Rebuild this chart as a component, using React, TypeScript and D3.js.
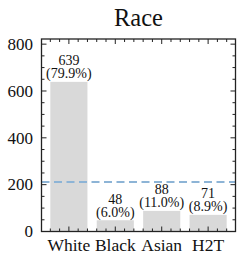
import React from "react";
import * as d3 from "d3";

const categories = ["White", "Black", "Asian", "H2T"];
const counts = [639, 48, 88, 71];
const shares = ["79.9%", "6.0%", "11.0%", "8.9%"];
const yTicks = [0, 200, 400, 600, 800];
const meanLine = 211.5;

const W = 244;
const H = 263;
const margin = { top: 39, right: 8.5, bottom: 31.5, left: 41.5 };
const font = '"Liberation Serif", "Times New Roman", Tinos, FreeSerif';

export default function App() {
  const iw = W - margin.left - margin.right;
  const ih = H - margin.top - margin.bottom;

  const x = d3.scaleLinear().domain([-0.59, 3.59]).range([0, iw]);
  const y = d3.scaleLinear().domain([0, 822]).range([ih, 0]);

  const barW = x(0.8) - x(0);
  const yMinor = d3.range(0, 822, 50).filter((v) => v % 200 !== 0);
  const xMinor = d3.range(-0.4, 3.5, 0.2).filter((v) => Math.abs(v - Math.round(v)) > 0.01);
  const stroke = "#222";

  return (
    <svg width={W} height={H} fontFamily={font} style={{ position: "absolute", left: 0, top: 0, background: "#fff", fontFamily: font }}>
      <style>{`text { font-family: ${font}; }`}</style>
      <text x={margin.left + iw / 2} y={26} textAnchor="middle" fontSize={24.5} fill="#111">
        Race
      </text>
      <g transform={`translate(${margin.left},${margin.top})`}>
        {counts.map((c, i) => (
          <rect key={i} x={x(i) - barW / 2} y={y(c)} width={barW} height={ih - y(c)} fill="#d9d9d9" />
        ))}
        <line x1={0} x2={iw} y1={y(meanLine)} y2={y(meanLine)} stroke="#8db4d6" strokeWidth={2} strokeDasharray="8,4.5" />
        {counts.map((c, i) => (
          <g key={i}>
            <text x={x(i)} y={y(c) - 16.5} textAnchor="middle" fontSize={14} fill="#111">
              {c}
            </text>
            <text x={x(i)} y={y(c) - 3.5} textAnchor="middle" fontSize={14} fill="#111">
              ({shares[i]})
            </text>
          </g>
        ))}
        {/* y ticks */}
        {yTicks.map((t) => (
          <g key={t}>
            <line x1={0} x2={5} y1={y(t)} y2={y(t)} stroke={stroke} strokeWidth={1} />
            <line x1={iw} x2={iw - 5} y1={y(t)} y2={y(t)} stroke={stroke} strokeWidth={1} />
            <text x={-8.5} y={y(t) + 5.8} textAnchor="end" fontSize={17} fill="#111">
              {t}
            </text>
          </g>
        ))}
        {yMinor.map((t) => (
          <g key={t}>
            <line x1={0} x2={3} y1={y(t)} y2={y(t)} stroke={stroke} strokeWidth={1} />
            <line x1={iw} x2={iw - 3} y1={y(t)} y2={y(t)} stroke={stroke} strokeWidth={1} />
          </g>
        ))}
        {/* x ticks */}
        {categories.map((c, i) => (
          <g key={c}>
            <line x1={x(i)} x2={x(i)} y1={ih} y2={ih - 5} stroke={stroke} strokeWidth={1} />
            <line x1={x(i)} x2={x(i)} y1={0} y2={5} stroke={stroke} strokeWidth={1} />
            <text x={x(i)} y={ih + 19.5} textAnchor="middle" fontSize={17.5} fill="#111">
              {c}
            </text>
          </g>
        ))}
        {xMinor.map((t, k) => (
          <g key={k}>
            <line x1={x(t)} x2={x(t)} y1={ih} y2={ih - 3} stroke={stroke} strokeWidth={1} />
            <line x1={x(t)} x2={x(t)} y1={0} y2={3} stroke={stroke} strokeWidth={1} />
          </g>
        ))}
        <rect x={0} y={0} width={iw} height={ih} fill="none" stroke={stroke} strokeWidth={1.3} />
      </g>
    </svg>
  );
}
